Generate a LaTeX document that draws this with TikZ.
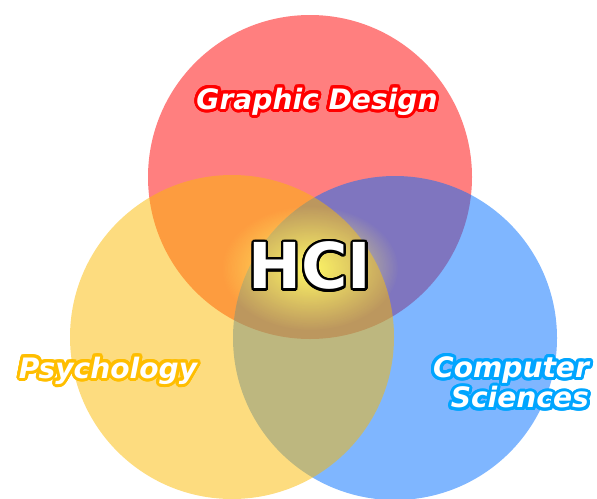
\documentclass[tikz,border=0pt]{standalone}
\usepackage{fontspec}
\usepackage{contour}
\usetikzlibrary{fadings}
\newfontfamily\vennfont{DejaVu Sans}
\definecolor{gdred}{RGB}{255,0,0}
\definecolor{psyyellow}{RGB}{251,186,0}
\definecolor{csblue}{RGB}{0,109,255}
\definecolor{psyline}{RGB}{255,190,0}
\definecolor{csline}{RGB}{0,165,255}
\contournumber{24}
\tikzfading[name=glowfade, inner color=transparent!0, outer color=transparent!100]

\begin{document}
\begin{tikzpicture}[x=0.03cm, y=-0.03cm]
	\tikzset{set/.style={fill opacity=0.5}}
	\tikzset{setname/.style={text=white, font=\vennfont\bfseries\itshape\fontsize{24}{26}\selectfont}}

	\useasboundingbox (0,0) rectangle (597,498);
	\clip (0,0) rectangle (597,498);

	% the three sets
	\fill[set, gdred] (310,177) circle [radius=162];
	\fill[set, csblue] (395,338) circle [radius=162];
	\fill[set, psyyellow] (232,337) circle [radius=162];

	% glow behind the middle label
	\fill[yellow!60!white, path fading=glowfade] (310,268) ellipse [x radius=88, y radius=62];

	\contourlength{2.6pt}
	\node[setname] (gd) at (317,103) {\contour{gdred}{Graphic Design}};
	\node[setname] (psy) at (108,372) {\contour{psyline}{Psychology}};
	\node[setname, align=right] (cs) at (511,384) {\contour{csline}{Computer}\\\contour{csline}{Sciences}};

	\contourlength{2pt}
	\node[text=white, font=\vennfont\bfseries\fontsize{54}{60}\selectfont] (hci) at (310,267) {\contour{black}{HCI}};
\end{tikzpicture}
\end{document}
